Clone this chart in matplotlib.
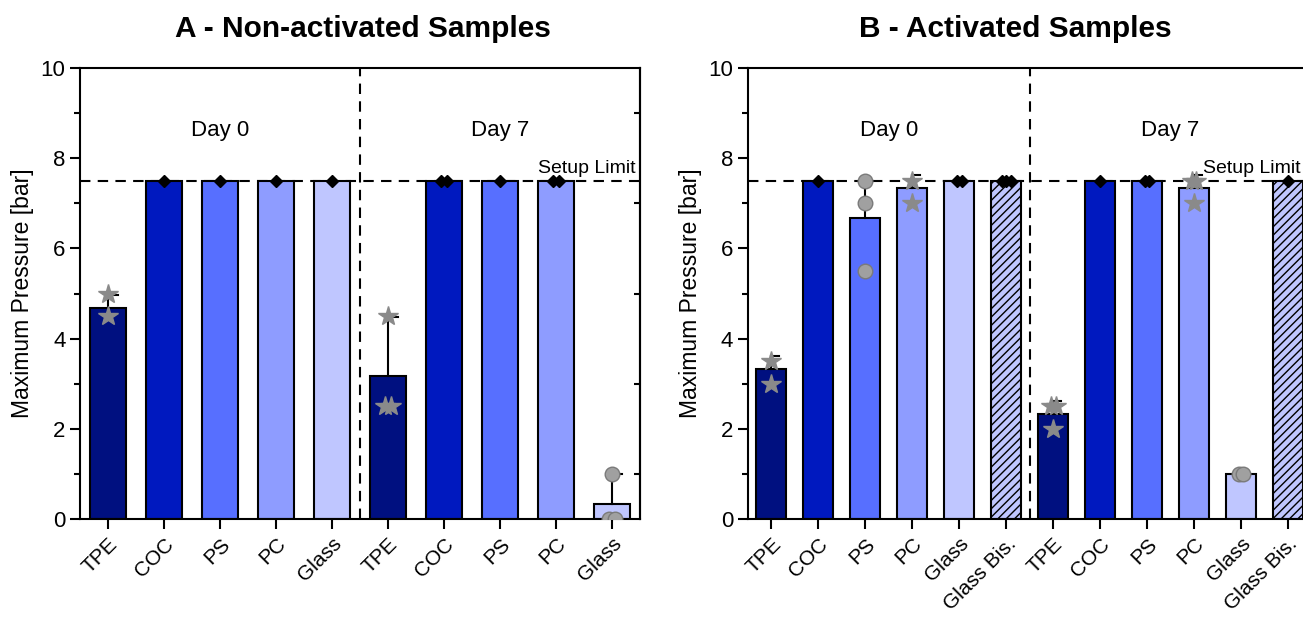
import matplotlib
matplotlib.use("Agg")
import matplotlib.pyplot as plt
from matplotlib.ticker import MultipleLocator, FixedLocator

plt.rcParams["font.family"] = ["Liberation Sans", "DejaVu Sans"]

# ---- data -----------------------------------------------------------------
labels_a = ["TPE", "COC", "PS", "PC", "Glass"]
means_a_d0 = [4.67, 7.5, 7.5, 7.5, 7.5]
means_a_d7 = [3.17, 7.5, 7.5, 7.5, 0.33]
err_a_d0 = [0.29, 0, 0, 0, 0]
err_a_d7 = [1.30, 0, 0, 0, 0.67]
pts_a_d0 = [[5.0, 4.5], [7.5], [7.5], [7.5], [7.5]]
pts_a_d7 = [[4.5, 2.5, 2.5], [7.5, 7.5], [7.5], [7.5, 7.5], [1.0, 0.0, 0.0]]

labels_b = ["TPE", "COC", "PS", "PC", "Glass", "Glass Bis."]
means_b_d0 = [3.33, 7.5, 6.67, 7.33, 7.5, 7.5]
means_b_d7 = [2.33, 7.5, 7.5, 7.33, 1.0, 7.5]
err_b_d0 = [0.29, 0, 0.83, 0.29, 0, 0]
err_b_d7 = [0.29, 0, 0, 0.29, 0, 0]
pts_b_d0 = [[3.5, 3.0], [7.5], [7.5, 7.0, 5.5], [7.5, 7.0], [7.5, 7.5], [7.5, 7.5, 7.5]]
pts_b_d7 = [[2.5, 2.5, 2.0], [7.5], [7.5, 7.5], [7.5, 7.5, 7.0], [1.0, 1.0], [7.5]]

setup_limit = 7.5

# ---- style ----------------------------------------------------------------
colors = {"TPE": "#001080", "COC": "#0019BF", "PS": "#576FFF",
          "PC": "#8E9CFF", "Glass": "#BFC6FF", "Glass Bis.": "#BFC6FF"}
STAR = dict(marker="*", color="#8a8a8a", ms=15, mec="#8a8a8a")
SPHERE = dict(marker="o", color="#a0a0a0", ms=10.5, mec="#7a7a7a", mew=1.0)
DIAMOND = dict(marker="D", color="black", ms=6.5, mec="black")


def marker_for(label, mean):
    # bars that reached the setup limit show black points
    if mean >= setup_limit:
        return DIAMOND
    if label in ("TPE", "PC"):
        return STAR
    return SPHERE


def draw_panel(ax, labels, means, errs, pts, day_y=8.62):
    n = len(labels)
    for day in range(2):
        for i, lab in enumerate(labels):
            x = day * n + i + 1
            m = means[day][i]
            hatch = "////" if lab == "Glass Bis." else None
            ax.bar(x, m, width=0.64, color=colors[lab], edgecolor="black",
                   linewidth=1.5, hatch=hatch, zorder=2)
            e = errs[day][i]
            if e > 0:
                ax.plot([x, x], [m, m + e], color="black", lw=1.5, zorder=3)
                ax.plot([x, x + 0.17], [m + e, m + e], color="black", lw=1.5, zorder=3)
            st = marker_for(lab, m)
            vals = pts[day][i]
            counts = {}
            for v in vals:
                counts[v] = counts.get(v, 0) + 1
            used = {}
            for v in vals:
                k = used.get(v, 0)
                used[v] = k + 1
                dx = (k - (counts[v] - 1) / 2) * 0.1
                ax.plot(x + dx, v, linestyle="none", zorder=4, **st)

    ax.axhline(setup_limit, color="black", lw=1.5, ls=(0, (5, 3.5)), zorder=1)
    ax.axvline(n + 0.5, color="black", lw=1.5, ls=(0, (5, 3.5)), zorder=1)

    ax.set_xlim(0.5, 2 * n + 0.5)
    ax.set_ylim(0, 10)
    ax.set_xticks(range(1, 2 * n + 1))
    ax.set_xticklabels(labels + labels, rotation=45, ha="right",
                       rotation_mode="anchor", fontsize=15)
    ax.yaxis.set_major_locator(MultipleLocator(2))
    ax.yaxis.set_minor_locator(MultipleLocator(1))
    ax.tick_params(axis="y", which="major", direction="out", length=7, width=1.5,
                   labelsize=16)
    ax.tick_params(axis="y", which="minor", direction="out", length=4, width=1.5)
    ax.tick_params(axis="x", direction="out", length=7, width=1.5, pad=4)
    for sp in ax.spines.values():
        sp.set_linewidth(1.5)
    ax.set_ylabel("Maximum Pressure [bar]", fontsize=16.5, labelpad=5)

    # inward minor ticks on the right spine
    sec = ax.secondary_yaxis("right")
    sec.yaxis.set_major_locator(FixedLocator([1, 3, 5, 7, 9]))
    sec.tick_params(direction="in", length=4, width=1.5, labelright=False)
    sec.spines["right"].set_linewidth(1.5)

    ax.text((n + 1) / 2, day_y, "Day 0", ha="center", va="center", fontsize=16)
    ax.text(n + (n + 1) / 2, day_y, "Day 7", ha="center", va="center", fontsize=16)


fig = plt.figure(figsize=(13.03, 6.21), dpi=100)
ax_a = fig.add_axes([0.0614, 0.1643, 0.4298, 0.726])
ax_b = fig.add_axes([0.574, 0.1643, 0.4325, 0.726])

draw_panel(ax_a, labels_a, [means_a_d0, means_a_d7], [err_a_d0, err_a_d7],
           [pts_a_d0, pts_a_d7])
draw_panel(ax_b, labels_b, [means_b_d0, means_b_d7], [err_b_d0, err_b_d7],
           [pts_b_d0, pts_b_d7])

ax_a.text(10.42, setup_limit + 0.08, "Setup Limit", ha="right", va="bottom", fontsize=14)
ax_b.text(12.27, setup_limit + 0.08, "Setup Limit", ha="right", va="bottom", fontsize=14)

fig.text(363 / 1303, 0.953, "A - Non-activated Samples", ha="center", va="center",
         fontsize=21.5, fontweight="bold")
fig.text(1015 / 1303, 0.953, "B - Activated Samples", ha="center", va="center",
         fontsize=21.5, fontweight="bold")

fig.savefig("out.png", dpi=100)
plt.close(fig)
